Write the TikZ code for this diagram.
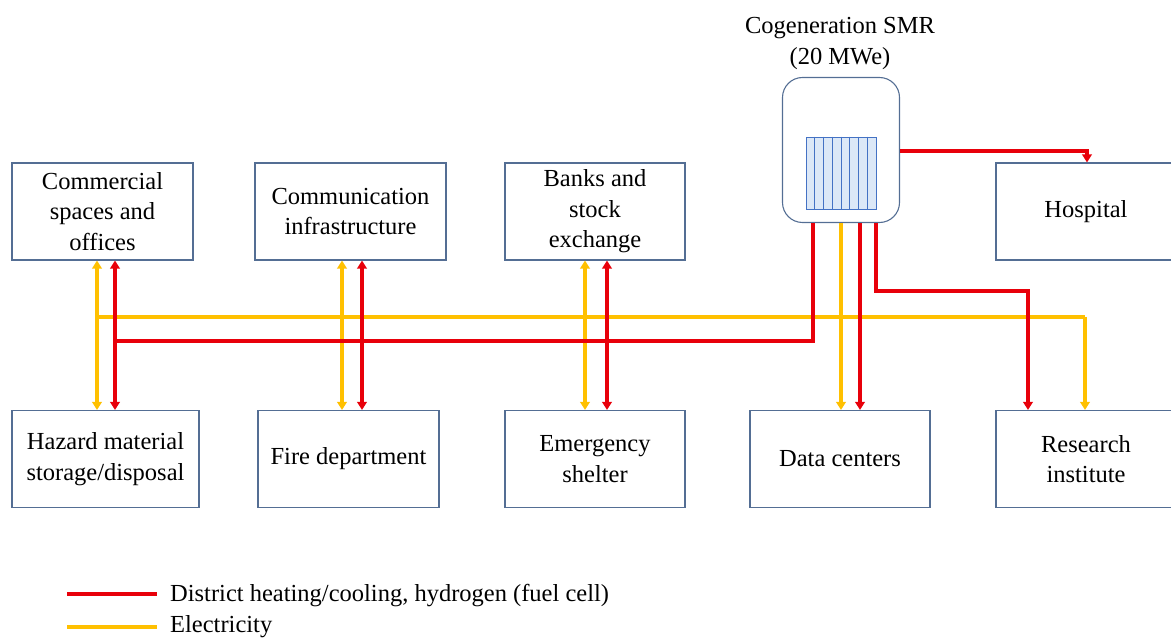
\documentclass[tikz,border=0pt]{standalone}
\usepackage{fontspec}
\setmainfont{Liberation Serif}
\usetikzlibrary{arrows.meta}

\definecolor{heatred}{RGB}{232,0,10}
\definecolor{elecgold}{RGB}{255,192,0}
\definecolor{boxblue}{RGB}{84,110,148}
\definecolor{corefill}{RGB}{220,232,247}
\definecolor{coreline}{RGB}{68,114,196}

\tikzset{
  box/.style={draw=boxblue, line width=1.1pt, minimum height=97pt, inner sep=0pt,
    align=center, font=\fontsize{24.5}{30.5}\selectfont},
  heat/.style={draw=heatred, line width=3.2pt},
  elec/.style={draw=elecgold, line width=3.2pt},
  legend/.style={anchor=west, inner sep=0pt, inner xsep=13pt, font=\fontsize{24.5}{30.5}\selectfont}
}

\begin{document}
\begin{tikzpicture}[x=1pt, y=-1pt, >={Triangle[length=8pt,width=9.5pt]}]
\useasboundingbox (0,0) rectangle (1171,639);

% reactor
\node[align=center, font=\fontsize{24.5}{31}\selectfont] (smrlbl) at (840,43) {Cogeneration SMR\\(20 MWe)};
\node[draw=boxblue, line width=1.1pt, rounded corners=20pt, minimum width=117pt, minimum height=145pt] (smr) at (841,150) {};
\node[draw=coreline, fill=corefill, line width=0.8pt, minimum width=70pt, minimum height=72pt, inner sep=0pt] (core) at (841.5,173) {};
\foreach \i in {1,...,7}
  \draw[coreline, line width=0.8pt] ([xshift=\i*8.75pt]core.north west) -- ([xshift=\i*8.75pt]core.south west);

% top row
\node[box, minimum width=181pt] (com) at (102.5,211.5) {Commercial\\spaces and\\offices};
\node[box, minimum width=191pt] (cmi) at (350.5,211.5) {Communication\\infrastructure};
\node[box, minimum width=180pt] (bnk) at (595,211.5) {Banks and\\stock\\exchange};
\node[box, minimum width=180pt] (hos) at (1086,211.5) {Hospital};

% bottom row
\node[box, minimum width=187pt] (haz) at (105.5,459) {Hazard material\\storage/disposal};
\node[box, minimum width=181pt] (fir) at (348.5,459) {Fire department};
\node[box, minimum width=180pt] (shl) at (595,459) {Emergency\\shelter};
\node[box, minimum width=180pt] (dat) at (840,459) {Data centers};
\node[box, minimum width=180pt] (res) at (1086,459) {Research\\institute};

% bus points
\coordinate (e1) at (97,317);
\coordinate (e2) at (342,317);
\coordinate (e3) at (585,317);
\coordinate (e4) at (1085,317);
\coordinate (h1) at (115,341);
\coordinate (h2) at (362,341);
\coordinate (h3) at (607,341);
\coordinate (h4) at (813,341);
\coordinate (h5) at (860,341);
\coordinate (h6) at (876,291);
\coordinate (h7) at (1028,291);
\coordinate (h8) at (1087,151);

% electricity
\draw[elec] (e1) -- (e4);
\draw[elec,->] (e4) -- (res.north -| e4);
\draw[elec,->] (smr.south) -- (dat.north -| smr.south);
\draw[elec,<->] (com.south -| e1) -- (haz.north -| e1);
\draw[elec,<->] (cmi.south -| e2) -- (fir.north -| e2);
\draw[elec,<->] (bnk.south -| e3) -- (shl.north -| e3);

% heating, cooling, hydrogen
\draw[heat] (smr.south -| h4) -- (h4) -- (h1);
\draw[heat,->] (smr.south -| h5) -- (dat.north -| h5);
\draw[heat,->] (smr.south -| h6) -- (h6) -- (h7) -- (res.north -| h7);
\draw[heat,->] (smr.east |- h8) -- (h8) -- (hos.north -| h8);
\draw[heat,<->] (com.south -| h1) -- (haz.north -| h1);
\draw[heat,<->] (cmi.south -| h2) -- (fir.north -| h2);
\draw[heat,<->] (bnk.south -| h3) -- (shl.north -| h3);

% legend
\coordinate (lg1) at (67,594);
\coordinate (lg2) at (67,627);
\node[legend] (lgheat) at (157,596) {District heating/cooling, hydrogen (fuel cell)};
\node[legend] (lgelec) at (157,627) {Electricity};
\draw[heat] (lg1) -- (lg1 -| lgheat.west);
\draw[elec] (lg2) -- (lg2 -| lgelec.west);
\end{tikzpicture}
\end{document}
